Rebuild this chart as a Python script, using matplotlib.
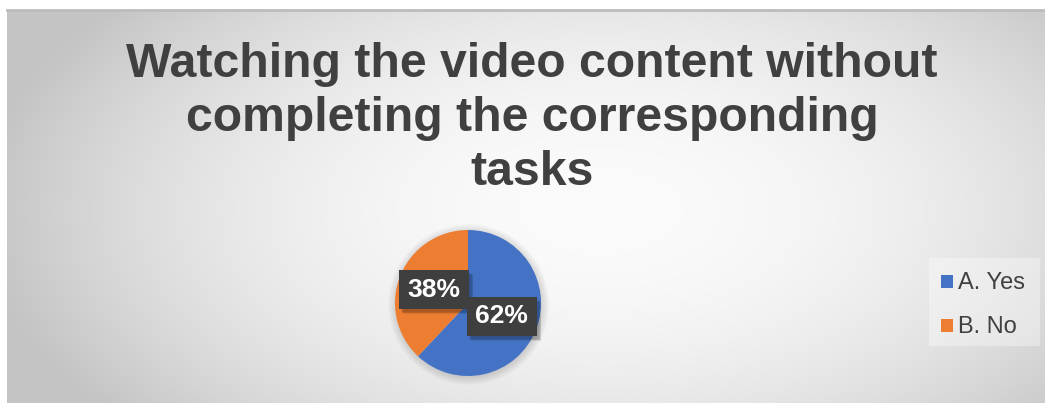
import numpy as np
import matplotlib
matplotlib.use("Agg")
import matplotlib.pyplot as plt
from matplotlib.patches import Rectangle, Circle

categories = ["A. Yes", "B. No"]
shares = [62, 38]
colors = ["#4472C4", "#ED7D31"]
title_lines = ["Watching the video content without",
               "completing the corresponding",
               "tasks"]

W, H = 1045, 403
fig = plt.figure(figsize=(W / 100, H / 100), dpi=100)
fig.patch.set_facecolor("white")

# chart area with a soft radial grey fill
x0, y0 = 7, 10
bg = fig.add_axes([x0 / W, 0, (W - x0) / W, (H - y0) / H])
yy, xx = np.mgrid[y0:H, x0:W]
r = np.sqrt(((xx - 600) / 620.0) ** 2 + ((yy - 210) / 330.0) ** 2)
val = np.clip(251 - 55 * r ** 2, 196, 251) / 255.0
bg.imshow(np.dstack([val, val, val]), aspect="auto", interpolation="bilinear")
bg.set_axis_off()
fig.add_artist(plt.Line2D([x0 / W, 1], [1 - y0 / H, 1 - y0 / H],
                          color="#bcbcbc", lw=2))

# title, one text per line
for line, base in zip(title_lines, [77, 131, 185]):
    fig.text(532 / W, 1 - base / H, line, ha="center", va="baseline",
             fontsize=34.7, fontweight="bold", color="#404040",
             family="Liberation Sans")

# pie
cx, cy, rad = 468, 303, 73
ax = fig.add_axes([(cx - rad) / W, (H - cy - rad) / H, 2 * rad / W, 2 * rad / H])
for k in range(6):
    ax.add_patch(Circle((0.01, -0.02), 1.0 + 0.02 * k, color="black",
                        alpha=0.025, lw=0, clip_on=False, zorder=0))
wedges, _ = ax.pie(shares, colors=colors, startangle=90, counterclock=False,
                   radius=1.0, wedgeprops=dict(linewidth=0))
for w in wedges:
    w.set_zorder(2)
ax.set_xlim(-1, 1)
ax.set_ylim(-1, 1)
ax.set_axis_off()

# value labels in dark boxes
bw, bh = 70 / rad, 39 / rad
for w, v in zip(wedges, shares):
    mid = np.deg2rad((w.theta1 + w.theta2) / 2)
    lx, ly = 0.5 * np.cos(mid), 0.5 * np.sin(mid)
    for k in range(4):
        ax.add_patch(Rectangle((lx - bw / 2 + 0.03 + 0.01 * k, ly - bh / 2 - 0.04 - 0.01 * k),
                               bw, bh, color="black", alpha=0.08, lw=0,
                               clip_on=False, zorder=3))
    ax.add_patch(Rectangle((lx - bw / 2, ly - bh / 2), bw, bh, color="#3f3f3f",
                           lw=0, clip_on=False, zorder=4))
    ax.text(lx, ly, f"{v}%", ha="center", va="center", fontsize=19,
            fontweight="bold", color="white", family="Liberation Sans",
            zorder=5)

# legend
fig.patches.append(Rectangle((929 / W, 1 - 346 / H), 111 / W, 88 / H,
                             transform=fig.transFigure, color="white",
                             alpha=0.35, lw=0))
for name, c, base in zip(categories, colors, [289, 333]):
    fig.patches.append(Rectangle((941 / W, 1 - (base - 1) / H), 12 / W, 13 / H,
                                 transform=fig.transFigure, color=c, lw=0))
    fig.text(958 / W, 1 - base / H, name, ha="left", va="baseline",
             fontsize=17, color="#404040", family="Liberation Sans")

fig.savefig("out.png", dpi=100)
